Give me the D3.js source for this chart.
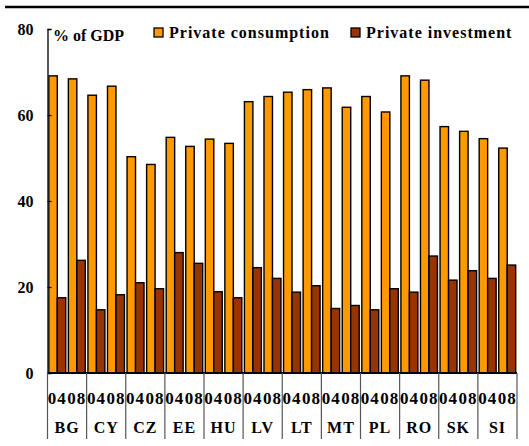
<!DOCTYPE html>
<html>
<head>
<meta charset="utf-8">
<script src="https://cdn.jsdelivr.net/npm/d3@7"></script>
<style>
  body { margin: 0; background: #fff; }
  text { font-family: "Liberation Serif", "Times New Roman", serif; font-weight: bold; }
</style>
</head>
<body>
<div id="chart"></div>
<script>
const countries = ["BG", "CY", "CZ", "EE", "HU", "LV", "LT", "MT", "PL", "RO", "SK", "SI"];
const years = ["04", "08"];
const seriesNames = ["Private consumption", "Private investment"];
// one value per country-year, in country order (04 then 08)
const consumption = [69.1, 68.4, 64.6, 66.7, 50.3, 48.5, 54.8, 52.7, 54.4, 53.4, 63.1, 64.3,
                     65.3, 65.9, 66.3, 61.8, 64.3, 60.7, 69.1, 68.1, 57.3, 56.2, 54.5, 52.3];
const investment  = [17.5, 26.2, 14.7, 18.2, 21.0, 19.6, 28.0, 25.5, 18.9, 17.5, 24.5, 22.0,
                     18.8, 20.3, 15.0, 15.7, 14.7, 19.6, 18.8, 27.2, 21.6, 23.8, 22.0, 25.1];
const yTicks = [0, 20, 40, 60, 80];

const width = 529, height = 446;
const margin = { left: 47.5, right: 12, top: 29, bottom: 73 };
const colors = ["#ff9900", "#993300"];

const svg = d3.select("#chart").append("svg")
  .attr("width", width)
  .attr("height", height);

// rule across the top
svg.append("line")
  .attr("x1", 5).attr("x2", width)
  .attr("y1", 7).attr("y2", 7)
  .attr("stroke", "#000").attr("stroke-width", 2.5);

const groups = [];
countries.forEach((c, ci) => years.forEach((yr, yi) => {
  const i = ci * 2 + yi;
  groups.push({ key: c + yr, country: c, year: yr, values: [consumption[i], investment[i]] });
}));

const x0 = d3.scaleBand().domain(groups.map(d => d.key))
  .range([margin.left, width - margin.right]);
const xc = d3.scaleBand().domain(countries)
  .range([margin.left, width - margin.right]);
const x1 = d3.scaleBand().domain([0, 1]).range([1.3, x0.bandwidth() - 1.3]);
const y = d3.scaleLinear().domain([0, 80]).range([height - margin.bottom, margin.top]);

// bars
const g = svg.selectAll(".grp").data(groups).enter().append("g")
  .attr("class", "grp")
  .attr("transform", d => `translate(${x0(d.key)},0)`);

g.selectAll("rect").data(d => d.values.map((v, i) => ({ v, i }))).enter()
  .append("rect")
  .attr("x", d => x1(d.i))
  .attr("y", d => y(d.v))
  .attr("width", x1.bandwidth())
  .attr("height", d => y(0) - y(d.v))
  .attr("fill", d => colors[d.i])
  .attr("stroke", "#000")
  .attr("stroke-width", 1.4);

// y axis
const yAxis = svg.append("g")
  .attr("transform", `translate(${margin.left},0)`)
  .call(d3.axisLeft(y).tickValues(yTicks).tickSize(-4).tickPadding(14));
yAxis.select(".domain").attr("stroke", "#222").attr("stroke-width", 1.5);
yAxis.selectAll(".tick line").attr("stroke", "#000").attr("stroke-width", 1.2);
yAxis.selectAll(".tick text")
  .attr("font-size", 16)
  .attr("font-family", "Liberation Serif, Times New Roman, serif")
  .attr("font-weight", "bold")
  .attr("fill", "#000");

// baseline
svg.append("line")
  .attr("x1", margin.left).attr("x2", width - margin.right)
  .attr("y1", y(0)).attr("y2", y(0))
  .attr("stroke", "#000").attr("stroke-width", 2);

// country separators below the axis
const seps = countries.map(c => xc(c)).concat([width - margin.right]);
svg.selectAll(".sep").data(seps).enter().append("line")
  .attr("class", "sep")
  .attr("x1", d => d).attr("x2", d => d)
  .attr("y1", y(0)).attr("y2", 439)
  .attr("stroke", "#555").attr("stroke-width", 1.2);

// year labels
svg.selectAll(".yr").data(groups).enter().append("text")
  .attr("class", "yr")
  .attr("x", d => x0(d.key) + x0.bandwidth() / 2)
  .attr("y", 404)
  .attr("text-anchor", "middle")
  .attr("font-size", 17)
  .attr("letter-spacing", "1px")
  .text(d => d.year);

// country labels
svg.selectAll(".ctry").data(countries).enter().append("text")
  .attr("class", "ctry")
  .attr("x", d => xc(d) + xc.bandwidth() / 2)
  .attr("y", 433)
  .attr("text-anchor", "middle")
  .attr("font-size", 16)
  .attr("letter-spacing", "1px")
  .text(d => d);

// unit label
svg.append("text")
  .attr("x", 53).attr("y", 41)
  .attr("font-size", 16)
  .text("% of GDP");

// legend
const legendX = [154, 351];
const legend = svg.selectAll(".leg").data(seriesNames).enter().append("g")
  .attr("class", "leg")
  .attr("transform", (d, i) => `translate(${legendX[i]},28)`);
legend.append("rect")
  .attr("width", 9).attr("height", 9)
  .attr("fill", (d, i) => colors[i])
  .attr("stroke", "#000").attr("stroke-width", 1.3);
legend.append("text")
  .attr("x", 15).attr("y", 9.5)
  .attr("font-size", 16)
  .attr("letter-spacing", "1px")
  .text(d => d);
</script>
</body>
</html>
